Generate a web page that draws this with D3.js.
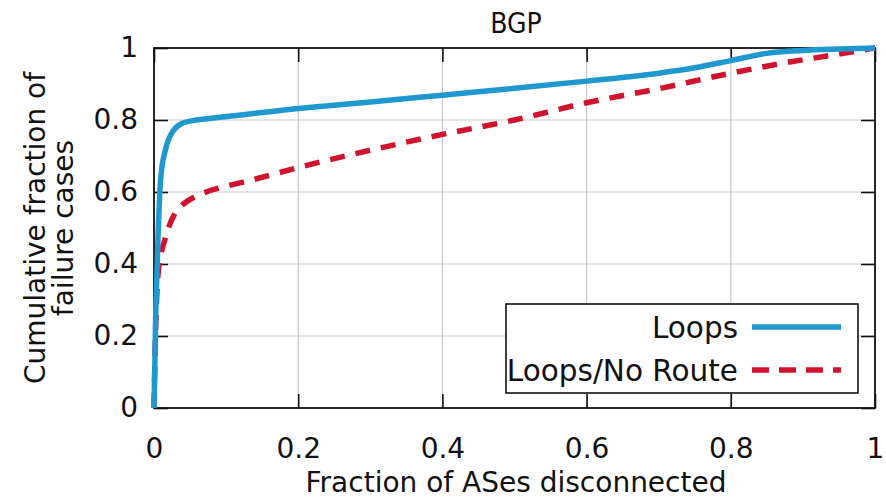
<!DOCTYPE html>
<html>
<head>
<meta charset="utf-8">
<script src="https://cdn.jsdelivr.net/npm/d3@7"></script>
<style>
  html, body { margin: 0; padding: 0; background: #fff; }
  svg text { font-family: "DejaVu Sans", "Open Sans", sans-serif; fill: #111; }
</style>
</head>
<body>
<svg id="chart" width="886" height="501"></svg>
<script>
// CDF of disconnected AS fraction per failure case
const loopsX = [0, 0.001, 0.002, 0.004, 0.006, 0.008, 0.011, 0.015, 0.02, 0.025, 0.03, 0.038, 0.05, 0.08, 0.12, 0.2, 0.3, 0.4, 0.5, 0.6, 0.7, 0.75, 0.8, 0.85, 0.9, 0.95, 1.0];
const loopsY = [0, 0.1, 0.22, 0.37, 0.5, 0.6, 0.67, 0.71, 0.745, 0.765, 0.778, 0.79, 0.797, 0.805, 0.814, 0.832, 0.85, 0.869, 0.888, 0.908, 0.93, 0.945, 0.965, 0.985, 0.993, 0.997, 1.0];

const noRouteX = [0, 0.002, 0.004, 0.006, 0.01, 0.015, 0.02, 0.029, 0.04, 0.057, 0.075, 0.098, 0.135, 0.2, 0.3, 0.4, 0.5, 0.6, 0.7, 0.8, 0.87, 0.94, 1.0];
const noRouteY = [0, 0.2, 0.32, 0.38, 0.43, 0.467, 0.5, 0.54, 0.565, 0.587, 0.602, 0.615, 0.633, 0.668, 0.716, 0.76, 0.8, 0.848, 0.887, 0.93, 0.957, 0.98, 1.0];

const seriesNames = ["Loops", "Loops/No Route"];
const seriesColors = ["#1f98cf", "#d0132e"];
const xTicks = [0, 0.2, 0.4, 0.6, 0.8, 1];
const yTicks = [0, 0.2, 0.4, 0.6, 0.8, 1];

const svg = d3.select("#chart");
const m = { left: 154, right: 875, top: 48, bottom: 408 };

const x = d3.scaleLinear().domain([0, 1]).range([m.left, m.right]);
const y = d3.scaleLinear().domain([0, 1]).range([m.bottom, m.top]);
const fs = 28;

// grid
const grid = svg.append("g").attr("stroke", "#c9c9c9").attr("stroke-width", 1.2);
xTicks.slice(1, -1).forEach(t => grid.append("line").attr("x1", x(t)).attr("x2", x(t)).attr("y1", m.top).attr("y2", m.bottom));
yTicks.slice(1, -1).forEach(t => grid.append("line").attr("y1", y(t)).attr("y2", y(t)).attr("x1", m.left).attr("x2", m.right));

// axes with inward ticks on all four sides
const tk = 14;
const fmt = d => d === 0 || d === 1 ? String(d) : d3.format(".1f")(d);
const xAxisB = d3.axisBottom(x).tickValues(xTicks).tickSize(-tk).tickPadding(30).tickFormat(fmt);
const xAxisT = d3.axisTop(x).tickValues(xTicks).tickSize(-tk).tickFormat("");
const yAxisL = d3.axisLeft(y).tickValues(yTicks).tickSize(-tk).tickPadding(16).tickFormat(fmt);
const yAxisR = d3.axisRight(y).tickValues(yTicks).tickSize(-tk).tickFormat("");

function styleAxis(g) {
  g.select(".domain").remove();
  g.selectAll(".tick line").attr("stroke", "#111").attr("stroke-width", 1.6);
  g.selectAll(".tick text").attr("font-size", fs).attr("fill", "#111");
}
svg.append("g").attr("transform", `translate(0,${m.bottom})`).call(xAxisB).call(styleAxis);
svg.append("g").attr("transform", `translate(0,${m.top})`).call(xAxisT).call(styleAxis);
svg.append("g").attr("transform", `translate(${m.left},0)`).call(yAxisL).call(styleAxis);
svg.append("g").attr("transform", `translate(${m.right},0)`).call(yAxisR).call(styleAxis);

// frame
svg.append("rect").attr("x", m.left).attr("y", m.top)
  .attr("width", m.right - m.left).attr("height", m.bottom - m.top)
  .attr("fill", "none").attr("stroke", "#111").attr("stroke-width", 1.8);

// curves
const line = d3.line().x(d => x(d[0])).y(d => y(d[1])).curve(d3.curveMonotoneX);
const loops = loopsX.map((v, i) => [v, loopsY[i]]);
const noRoute = noRouteX.map((v, i) => [v, noRouteY[i]]);

svg.append("path").datum(noRoute).attr("d", line)
  .attr("fill", "none").attr("stroke", seriesColors[1]).attr("stroke-width", 5.5)
  .attr("stroke-dasharray", "15,11");
svg.append("path").datum(loops).attr("d", line)
  .attr("fill", "none").attr("stroke", seriesColors[0]).attr("stroke-width", 5.5);

// legend
const lg = svg.append("g");
lg.append("rect").attr("x", 506).attr("y", 304).attr("width", 352).attr("height", 89)
  .attr("fill", "#fff").attr("stroke", "#111").attr("stroke-width", 1.6);
const rows = [327, 370];
seriesNames.forEach((name, i) => {
  lg.append("text").attr("x", 738).attr("y", rows[i]).attr("dy", "0.36em")
    .attr("text-anchor", "end").attr("font-size", 29.5).text(name);
  const l = lg.append("line").attr("x1", 752).attr("x2", 841).attr("y1", rows[i]).attr("y2", rows[i])
    .attr("stroke", seriesColors[i]).attr("stroke-width", 5.5);
  if (i === 1) l.attr("stroke-dasharray", "17,10");
});

// title and axis labels
svg.append("text").attr("x", 516).attr("y", 33).attr("text-anchor", "middle")
  .attr("font-size", 28).attr("transform", "translate(516,0) scale(0.9,1) translate(-516,0)").text("BGP");
svg.append("text").attr("x", 516).attr("y", 492).attr("text-anchor", "middle")
  .attr("font-size", fs).text("Fraction of ASes disconnected");
const yl = svg.append("text").attr("transform", "translate(0,228) rotate(-90)").attr("text-anchor", "middle").attr("font-size", fs);
yl.append("tspan").attr("x", 0).attr("y", 45).text("Cumulative fraction of");
yl.append("tspan").attr("x", 0).attr("y", 73).text("failure cases");
</script>
</body>
</html>
